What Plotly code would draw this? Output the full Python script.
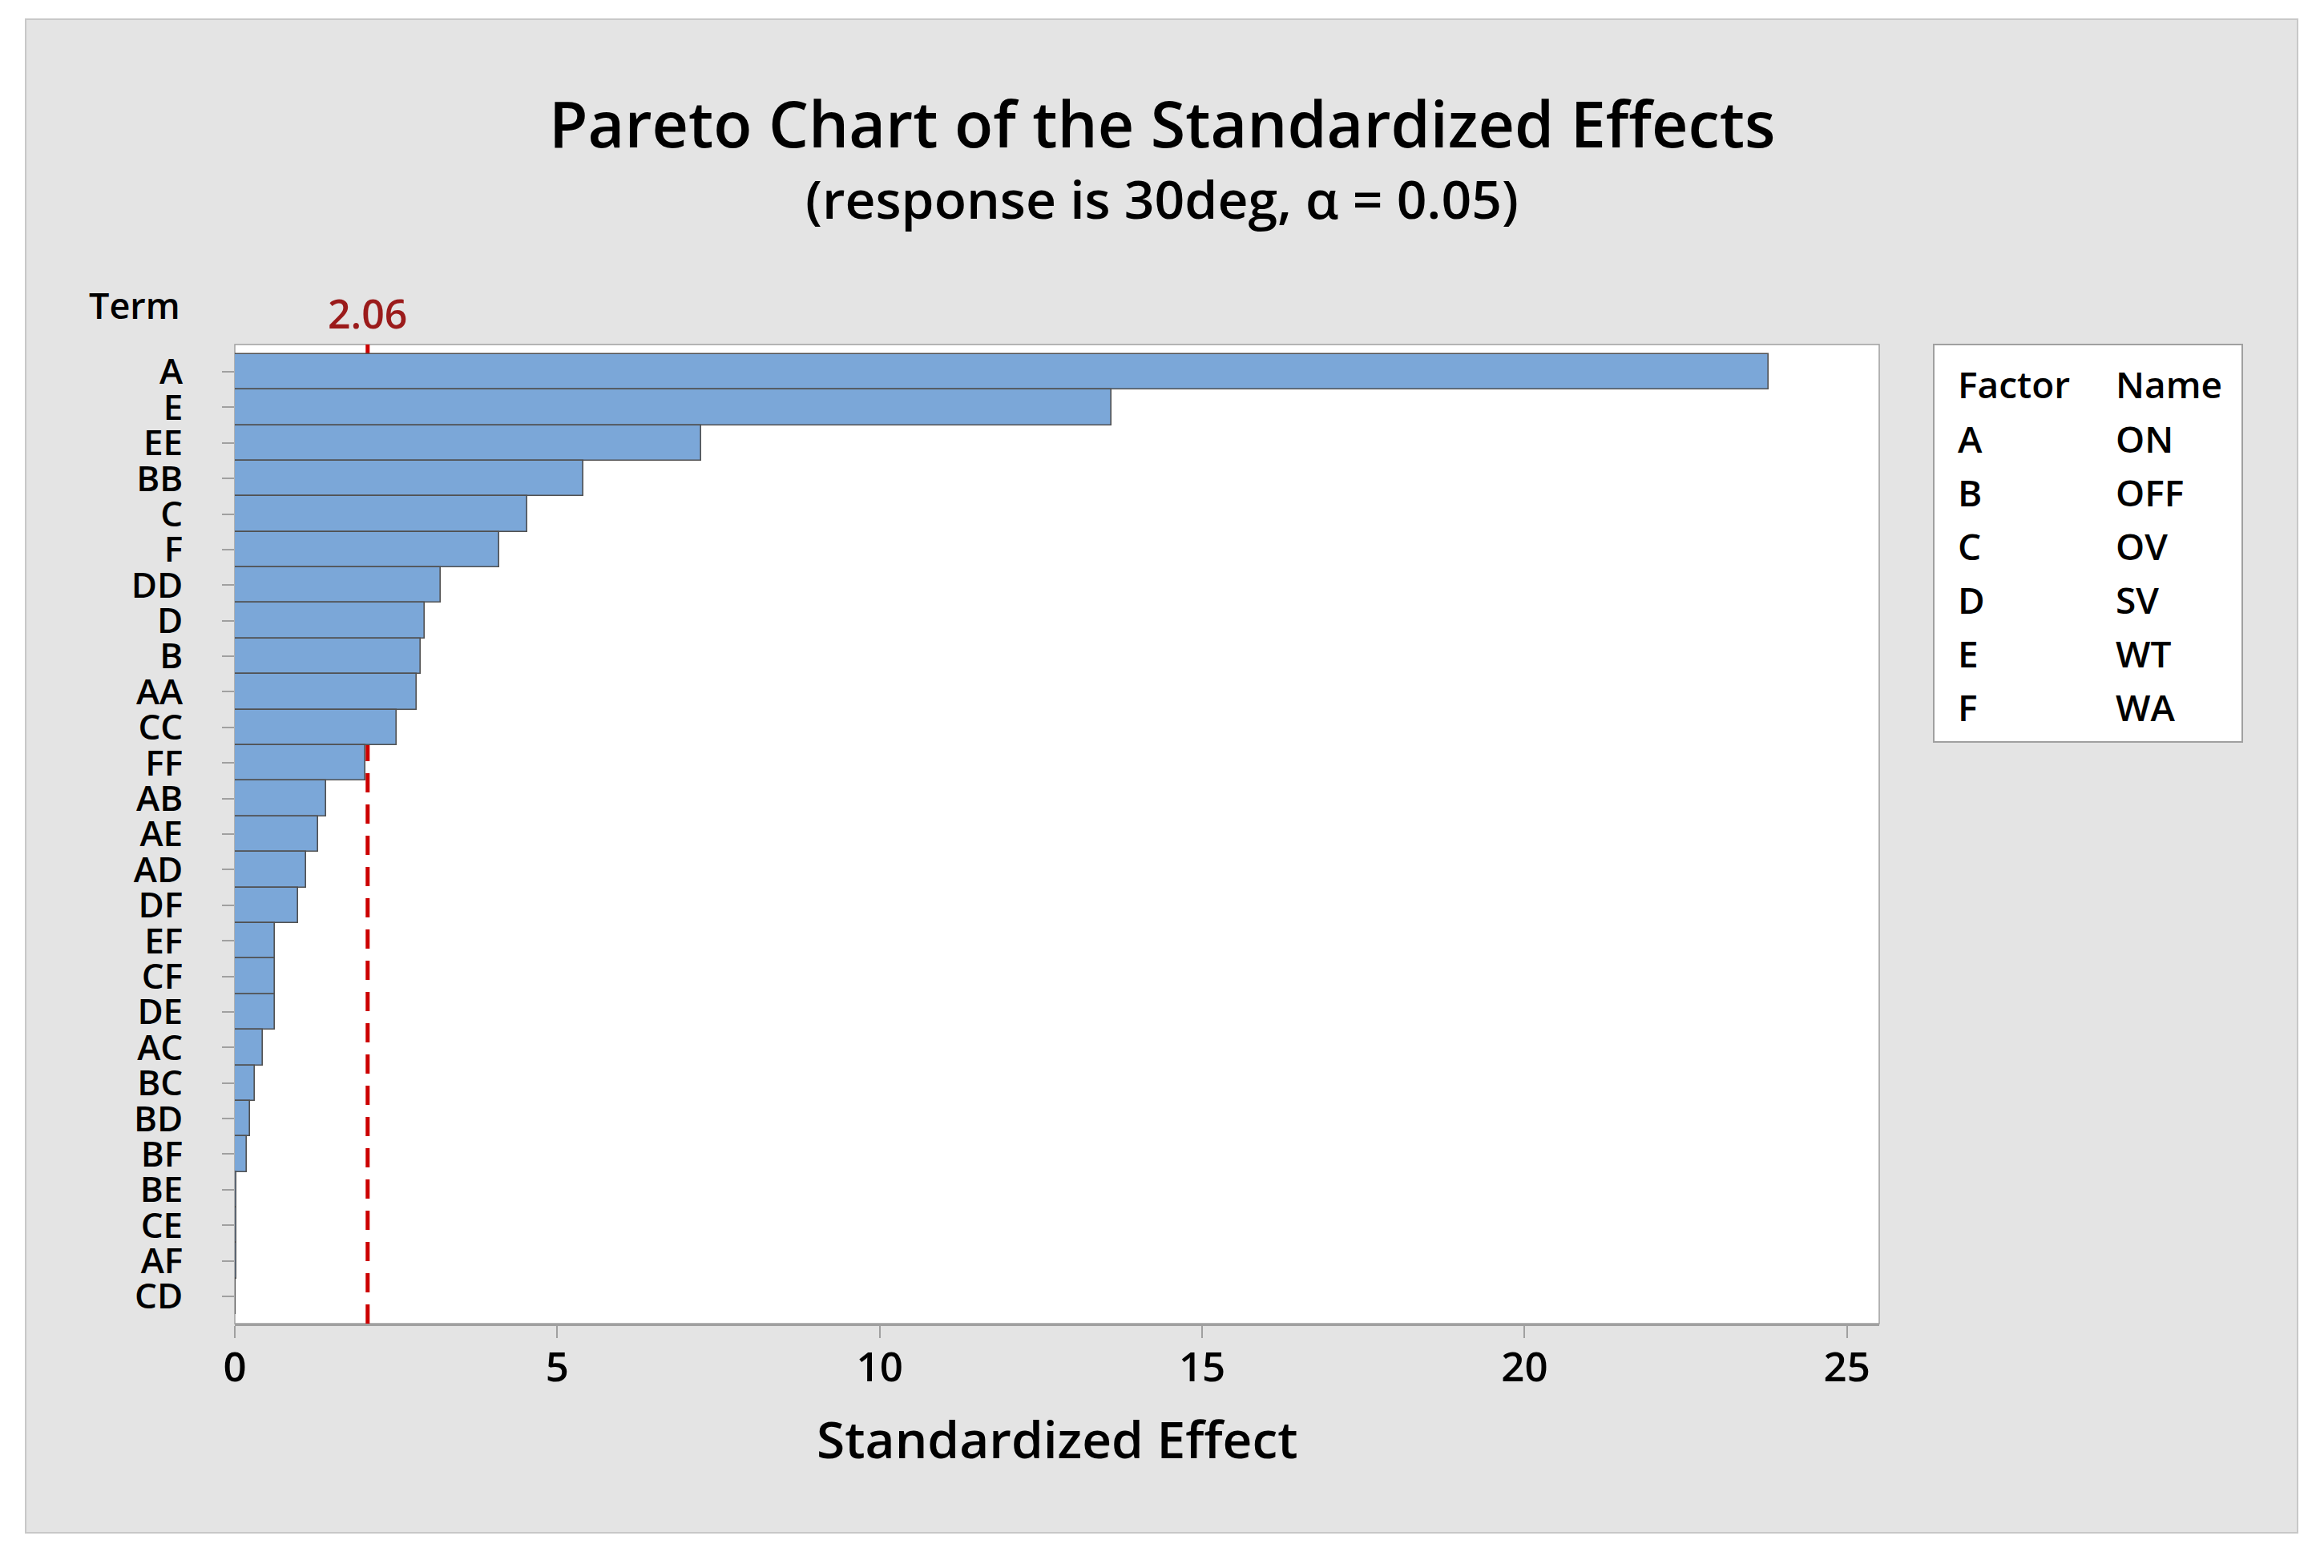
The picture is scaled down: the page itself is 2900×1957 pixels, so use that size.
import plotly.graph_objects as go

# ---- data ----
terms = ["A", "E", "EE", "BB", "C", "F", "DD", "D", "B", "AA", "CC", "FF", "AB", "AE",
         "AD", "DF", "EF", "CF", "DE", "AC", "BC", "BD", "BF", "BE", "CE", "AF", "CD"]
effects = [23.78, 13.60, 7.23, 5.40, 4.54, 4.10, 3.19, 2.94, 2.88, 2.82, 2.51, 2.02, 1.42, 1.29,
           1.11, 0.98, 0.62, 0.62, 0.62, 0.43, 0.31, 0.24, 0.19, 0.02, 0.02, 0.02, 0.01]
critical_value = 2.06
x_ticks = [0, 5, 10, 15, 20, 25]
factors = ["A", "B", "C", "D", "E", "F"]
factor_names = ["ON", "OFF", "OV", "SV", "WT", "WA"]

title_text = "Pareto Chart of the Standardized Effects"
subtitle_text = "(response is 30deg, α = 0.05)"
x_title = "Standardized Effect"
y_title = "Term"

W, H = 2900, 1957
FONT = "Open Sans"
WT = 600
L, R, T, B = 293, 2345, 430, 1652   # plot area in pixels


def px(x):
    # figure pixel -> paper coordinate (paper = plot area)
    return (x - L) / (R - L)


def py(y):
    return (B - y) / (B - T)


fig = go.Figure()
fig.add_trace(go.Bar(
    x=effects, y=terms, orientation="h",
    marker=dict(color="#7BA7D8", line=dict(color="#505050", width=1.6)),
    showlegend=False,
))

shapes = [
    # outer grey panel
    dict(type="rect", xref="paper", yref="paper", x0=px(32), x1=px(2867), y0=py(1913), y1=py(24),
         fillcolor="#e4e4e4", line=dict(color="#c8c8c8", width=2), layer="below"),
    # white plot area
    dict(type="rect", xref="paper", yref="paper", x0=0, x1=1, y0=0, y1=1,
         fillcolor="white", line=dict(color="#a0a0a0", width=1.5), layer="below"),
    # factor table box
    dict(type="rect", xref="paper", yref="paper", x0=px(2413), x1=px(2798), y0=py(926), y1=py(430),
         fillcolor="white", line=dict(color="#a0a0a0", width=2), layer="below"),
    # reference line
    dict(type="line", xref="x", yref="y domain", x0=critical_value, x1=critical_value, y0=0, y1=1,
         line=dict(color="#CC0000", width=5, dash="24px,15px"), layer="below"),
]

ann = []


def add_text(text, x, y, size, xanchor="center", color="black", xref="paper"):
    ann.append(dict(text=text, x=x, y=py(y), xref=xref, yref="paper",
                    xanchor=xanchor, yanchor="middle", showarrow=False,
                    font=dict(family=FONT, size=size, color=color, weight=WT)))


add_text(title_text, px(1450), 154, 79)
add_text(subtitle_text, px(1450), 247, 66)
add_text(x_title, px((L + R) / 2), 1795, 64)
add_text(y_title, px(227), 380, 45, xanchor="right")
add_text(f"{critical_value:.2f}", critical_value, 391, 50, color="#9B1B1B", xref="x")

# factor table
add_text("Factor", px(2441), 479, 46, xanchor="left")
add_text("Name", px(2638), 479, 46, xanchor="left")
for i, (f, n) in enumerate(zip(factors, factor_names)):
    yy = 547 + i * 67
    add_text(f, px(2441), yy, 46, xanchor="left")
    add_text(n, px(2638), yy, 46, xanchor="left")

fig.update_layout(
    width=W, height=H, autosize=False,
    margin=dict(l=L, r=W - R, t=T, b=H - B, pad=0),
    paper_bgcolor="white", plot_bgcolor="white",
    bargap=0,
    shapes=shapes, annotations=ann,
    font=dict(family=FONT, color="black"),
    xaxis=dict(range=[0, 25.5], tickmode="array", tickvals=x_ticks, ticks="outside", ticklen=15,
               tickwidth=2, tickcolor="#a0a0a0", showgrid=False, zeroline=False, showline=True,
               linecolor="#a0a0a0", linewidth=2.5,
               tickfont=dict(family=FONT, size=51, color="black", weight=WT),
               ticklabelstandoff=-7),
    yaxis=dict(categoryorder="array", categoryarray=terms, range=[26.765, -0.765],
               tickmode="array", tickvals=terms, ticktext=terms,
               ticks="outside", ticklen=15, tickwidth=2, tickcolor="#a0a0a0",
               showgrid=False, zeroline=False, showline=False,
               tickfont=dict(family=FONT, size=44, color="black", weight=WT), ticklabelstandoff=40),
)

fig.write_html("out.html", config={"displayModeBar": False},
               post_script="document.body.style.margin='0px';")
